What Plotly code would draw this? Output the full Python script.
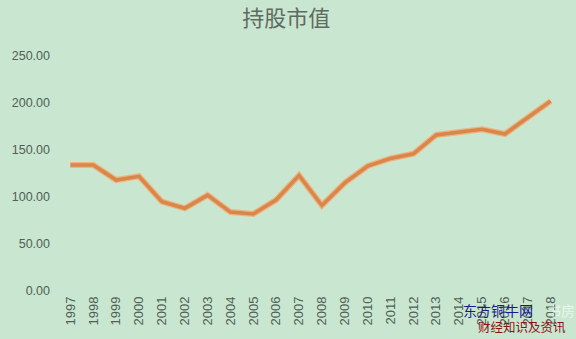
import plotly.graph_objects as go

years = [str(y) for y in range(1997, 2019)]
values = [134, 134, 118, 122, 95, 88, 102, 84, 82, 97, 123, 91, 115, 133,
          141, 146, 166, 169, 172, 167, 185, 202]
y_ticks = [0, 50, 100, 150, 200, 250]

bg = "#c9e6d0"
txt = "#4f6054"
fig = go.Figure()
fig.add_trace(go.Scatter(x=years, y=values, mode="lines",
                         line=dict(color="#f0b27c", width=6), hoverinfo="skip"))
fig.add_trace(go.Scatter(x=years, y=values, mode="lines",
                         line=dict(color="#d8874c", width=3.5)))

fig.update_layout(
    width=576, height=339,
    paper_bgcolor=bg, plot_bgcolor=bg,
    margin=dict(l=55, r=14, t=56, b=48),
    showlegend=False,
    title=dict(text="持股市值", x=0.497, xanchor="center", y=0.947, yanchor="middle",
               font=dict(family="Noto Sans CJK SC", size=22, color="#5f6a62")),
    font=dict(family="Liberation Sans", size=13, color=txt),
)
fig.update_xaxes(type="category", range=[-0.5, 21.5], tickangle=-90,
                 showgrid=False, zeroline=False, showline=False, ticks="",
                 ticklabelstandoff=2,
                 tickfont=dict(family="Liberation Sans", size=13, color=txt))
fig.update_yaxes(range=[0, 250], tickvals=y_ticks, tickformat=".2f",
                 showgrid=False, zeroline=False, showline=False, ticks="",
                 ticklabelstandoff=8,
                 tickfont=dict(family="Liberation Sans", size=12.5, color=txt))

fig.add_annotation(text="书房", xref="paper", yref="paper", x=1.03, y=-0.08,
                   xanchor="right", yanchor="middle", showarrow=False,
                   font=dict(family="Noto Sans CJK SC", size=14, color="rgba(255,255,255,0.6)"))
fig.add_annotation(text="东方铜牛网", xref="paper", yref="paper", x=0.872, y=-0.081,
                   xanchor="center", yanchor="middle", showarrow=False,
                   font=dict(family="Noto Sans CJK SC", size=14, color="#1a1a8c"))
fig.add_annotation(text="财经知识及资讯", xref="paper", yref="paper", x=1.012, y=-0.149,
                   xanchor="right", yanchor="middle", showarrow=False,
                   font=dict(family="Noto Sans CJK SC", size=12.5, color="#8b1010"))

fig.write_html("out.html")
